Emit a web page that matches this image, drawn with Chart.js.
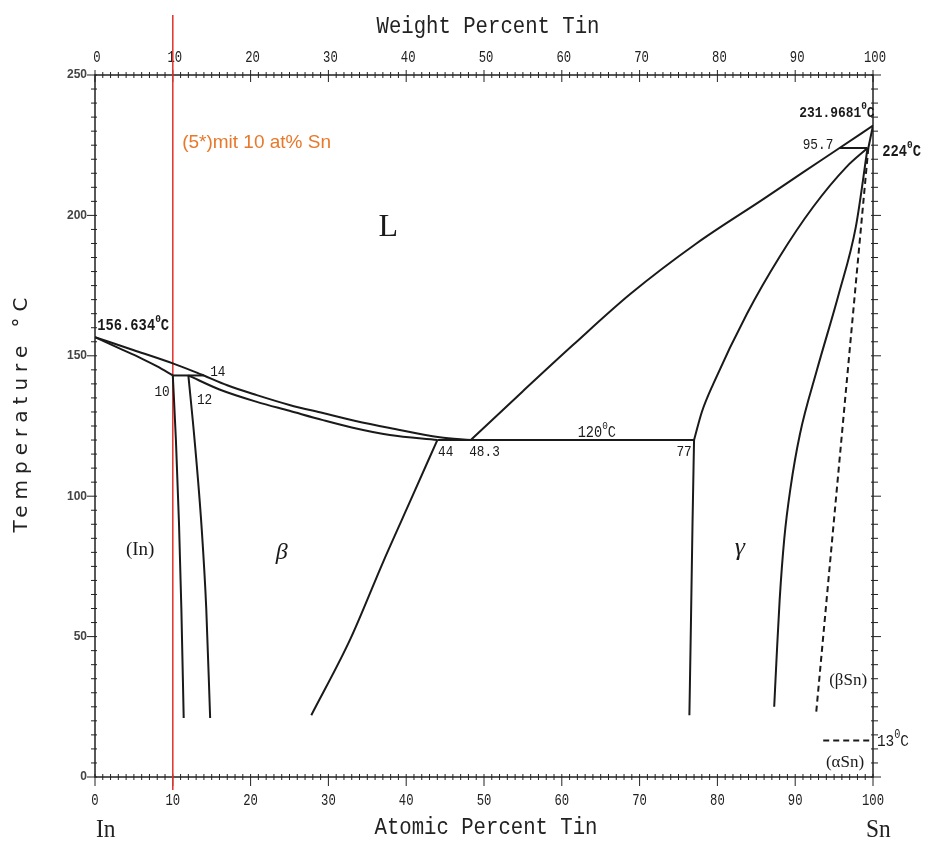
<!DOCTYPE html>
<html>
<head>
<meta charset="utf-8">
<script src="https://cdn.jsdelivr.net/npm/chart.js@4.4.1/dist/chart.umd.min.js"></script>
<style>
    html, body { margin: 0; padding: 0; background: #fff; }
    #wrap { width: 930px; height: 842px; }
</style>
</head>
<body>
<div id="wrap"><canvas id="phase" width="930" height="842"></canvas></div>
<script>
// =============================================
// In-Sn phase diagram (atomic % Sn vs temperature)
// =============================================

// Axis ticks
const atomicTicks = [0, 10, 20, 30, 40, 50, 60, 70, 80, 90, 100];
const weightTicks = [0, 10, 20, 30, 40, 50, 60, 70, 80, 90, 100];
const tempTicks = [0, 50, 100, 150, 200, 250];

// Phase boundaries, [at% Sn, °C]
const liquidusIn = [[0, 156.6], [5, 152.0], [10, 147.3], [14, 143]];
const liquidusBeta = [[14, 143], [17, 139.5], [20.8, 136], [25, 132.5], [29.3, 129.6], [33.5, 126.8], [37.9, 124.3], [44.3, 121], [48.3, 120]];
const liquidusSn = [[48.3, 120], [55, 137.4], [61.5, 154], [68.8, 172], [77.3, 190], [85.9, 205.8], [91, 215.3], [95.7, 224], [100, 232]];
const solidusIn = [[0, 156.6], [3, 152.8], [6, 149], [8, 146.2], [10, 143]];
const solidusBeta = [[12, 143], [16, 138], [20.8, 133.6], [25, 130.4], [29.3, 127.1], [33, 124.5], [37.9, 121.8], [44, 120]];
const solidusGamma = [[77, 120], [78, 130], [79.5, 140.2], [83.8, 165], [88, 185.3], [92.3, 203], [96.6, 217.3], [99.3, 224]];
const solidusSn = [[100, 232], [99.4, 224]];
const peritectic143 = [[10, 143], [14, 143]];
const eutectic120 = [[44, 120], [77, 120]];
const peritectic224 = [[95.7, 224], [99.3, 224]];
const solvusIn = [[10, 143], [10.4, 120], [10.8, 90], [11.1, 60], [11.4, 21]];
const solvusBetaLeft = [[12, 143], [12.8, 120], [13.7, 89], [14.3, 60], [14.8, 21]];
const solvusBetaRight = [[44, 120], [40.8, 100], [37.1, 77], [32.8, 49], [27.8, 22]];
const solvusGammaLeft = [[77, 120], [76.8, 90], [76.6, 55], [76.4, 22]];
const solvusGammaRight = [[99.3, 224], [97.8, 196], [95.6, 172], [92.8, 145], [90.6, 122], [89.4, 103], [88.6, 85], [88, 63], [87.6, 42], [87.3, 25]];
const solvusSn = [[99.4, 224], [92.7, 23]];
const transition13 = [[93.6, 13], [99.6, 13]];

// Marked alloy: 10 at% Sn
const markerX = 10;
const markerRange = [271.4, -4.6];

const toXY = arr => arr.map(p => ({ x: p[0], y: p[1] }));

const black = '#1a1a1a';

// curved boundary (monotone spline along x)
const curve = (name, arr, opts = {}) => Object.assign({
    label: name,
    data: toXY(arr),
    showLine: true,
    pointRadius: 0,
    borderColor: black,
    borderWidth: 2,
    cubicInterpolationMode: 'monotone',
    fill: false
}, opts);

// straight segment
const straight = (name, arr, opts = {}) => curve(name, arr, Object.assign({
    cubicInterpolationMode: 'default', tension: 0
}, opts));

// Draws text with '^x' marking x as superscript, optionally condensed
function drawText(ctx, str, x, y, font, size, align, sx, color) {
    const parts = [];
    for (let i = 0; i < str.length; i++) {
        if (str[i] === '^') { parts.push({ t: str[i + 1], sup: true }); i++; }
        else if (parts.length && !parts[parts.length - 1].sup) parts[parts.length - 1].t += str[i];
        else parts.push({ t: str[i], sup: false });
    }
    const supSize = Math.round(size * 0.7);
    ctx.save();
    ctx.fillStyle = color || black;
    ctx.textBaseline = 'middle';
    ctx.textAlign = 'left';
    let total = 0;
    parts.forEach(p => {
        ctx.font = font.replace('{s}', p.sup ? supSize : size);
        p.w = ctx.measureText(p.t).width;
        total += p.w;
    });
    const sxv = sx || 1;
    let start = x;
    if (align === 'center') start = x - total * sxv / 2;
    if (align === 'right') start = x - total * sxv;
    ctx.translate(start, y);
    ctx.scale(sxv, 1);
    let cx = 0;
    parts.forEach(p => {
        ctx.font = font.replace('{s}', p.sup ? supSize : size);
        ctx.fillText(p.t, cx, p.sup ? -size * 0.42 : 0);
        cx += p.w;
    });
    ctx.restore();
}

const monoFont = '{s}px "Liberation Mono"';
const monoBold = 'bold {s}px "Liberation Mono"';
const serifFont = '{s}px "Liberation Serif"';

const axesPlugin = {
    id: 'axesPlugin',
    beforeDatasetsDraw(chart) {
        const ctx = chart.ctx;
        const xs = chart.scales.x, ys = chart.scales.y;
        const { left, right, top, bottom } = chart.chartArea;
        ctx.save();
        ctx.strokeStyle = '#222';
        ctx.lineWidth = 1.5;
        ctx.strokeRect(left, top, right - left, bottom - top);

        ctx.lineWidth = 1;
        for (let v = 0; v <= 100; v++) {
            const px = xs.getPixelForValue(v);
            const major = v % 10 === 0;
            ctx.beginPath();
            ctx.moveTo(px, bottom - 3);
            ctx.lineTo(px, bottom + (major ? 9 : 3));
            ctx.moveTo(px, top - (major ? 5 : 3));
            ctx.lineTo(px, top + (major ? 7 : 3));
            ctx.stroke();
        }
        for (let v = 0; v <= 250; v += 5) {
            const py = ys.getPixelForValue(v);
            const major = v % 50 === 0;
            ctx.beginPath();
            ctx.moveTo(left - (major ? 8 : 4), py);
            ctx.lineTo(left + 2, py);
            ctx.moveTo(right - 2, py);
            ctx.lineTo(right + (major ? 8 : 5), py);
            ctx.stroke();
        }
        ctx.restore();

        // tick labels
        atomicTicks.forEach(v => drawText(ctx, String(v), xs.getPixelForValue(v), bottom + 23, monoFont, 17, 'center', 0.72, '#222'));
        weightTicks.forEach(v => drawText(ctx, String(v), xs.getPixelForValue(v) + 2, top - 18, monoFont, 17, 'center', 0.72, '#222'));
        tempTicks.forEach(v => drawText(ctx, String(v), left - 8, ys.getPixelForValue(v), 'bold {s}px "Liberation Sans"', 12, 'right', 1, '#444'));

        // axis titles
        drawText(ctx, 'Weight Percent Tin', 488, 27, monoFont, 24, 'center', 0.86, '#222');
        drawText(ctx, 'Atomic Percent Tin', 486, 828, monoFont, 24, 'center', 0.86, '#222');
        drawText(ctx, 'In', 96, 830, serifFont, 26, 'left', 0.9, '#222');
        drawText(ctx, 'Sn', 866, 830, serifFont, 26, 'left', 0.9, '#222');

        ctx.save();
        ctx.translate(22, 412);
        ctx.rotate(-Math.PI / 2);
        ctx.font = '20px "DejaVu Sans"';
        ctx.letterSpacing = '6px';
        ctx.fillStyle = '#222';
        ctx.textAlign = 'center';
        ctx.textBaseline = 'middle';
        ctx.fillText('Temperature °C', 0, 0);
        ctx.restore();
    },
    afterDatasetsDraw(chart) {
        const ctx = chart.ctx;
        const xs = chart.scales.x, ys = chart.scales.y;
        const put = (str, x, y, font, size, align, sx, color) => {
            drawText(ctx, str, xs.getPixelForValue(x), ys.getPixelForValue(y), font, size, align, sx, color);
        };
        put('156.634^0C', 0.3, 160.5, monoBold, 16, 'left', 0.86);
        put('14', 14.8, 144.3, monoFont, 15, 'left', 0.85);
        put('10', 9.6, 137.2, monoFont, 15, 'right', 0.85);
        put('12', 13.1, 134.3, monoFont, 15, 'left', 0.85);
        put('44', 44.1, 115.9, monoFont, 15, 'left', 0.85);
        put('48.3', 48.1, 115.9, monoFont, 15, 'left', 0.85);
        put('120^0C', 64.5, 122.5, monoFont, 16, 'center', 0.85);
        put('77', 76.7, 115.9, monoFont, 15, 'right', 0.85);
        put('231.9681^0C', 100.2, 236.5, monoBold, 15, 'right', 0.86);
        put('95.7', 94.9, 225, monoFont, 15, 'right', 0.85);
        put('224^0C', 101.2, 222.7, monoBold, 16, 'left', 0.86);
        put('13^0C', 100.5, 12.5, monoFont, 17, 'left', 0.85);

        put('L', 37.7, 195.5, serifFont, 32, 'center', 1);
        put('(In)', 5.8, 80.8, serifFont, 19, 'center', 1);
        put('β', 24, 79.8, 'italic {s}px "Liberation Serif"', 24, 'center', 1);
        put('γ', 82.9, 81.6, 'italic {s}px "Liberation Serif"', 26, 'center', 1);
        put('(βSn)', 96.8, 34.5, serifFont, 17, 'center', 1);
        put('(αSn)', 96.4, 5, serifFont, 17, 'center', 1);

        put('(5*)mit 10 at% Sn', 11.2, 225.8, '{s}px "Liberation Sans"', 19, 'left', 1, '#e8782a');
    }
};

new Chart(document.getElementById('phase'), {
    type: 'scatter',
    data: {
        datasets: [
            curve('Liquidus (In)', liquidusIn),
            curve('Liquidus (beta)', liquidusBeta),
            curve('Liquidus (Sn)', liquidusSn),
            curve('Solidus (In)', solidusIn),
            curve('Solidus (beta)', solidusBeta),
            curve('Solidus (gamma)', solidusGamma),
            straight('Solidus (Sn)', solidusSn),
            straight('Peritectic 143', peritectic143),
            straight('Eutectic 120', eutectic120),
            straight('Peritectic 224', peritectic224),
            curve('Solvus (In)', solvusIn),
            curve('Solvus beta left', solvusBetaLeft),
            curve('Solvus beta right', solvusBetaRight),
            curve('Solvus gamma left', solvusGammaLeft),
            curve('Solvus gamma right', solvusGammaRight),
            straight('Solvus (Sn)', solvusSn, { borderDash: [6, 4] }),
            straight('alpha/beta Sn 13', transition13, { borderDash: [6, 4], borderWidth: 1.8 }),
            straight('10 at% Sn', [[markerX, markerRange[0]], [markerX, markerRange[1]]], {
                borderColor: '#e3312b', borderWidth: 1.5, clip: false
            })
        ]
    },
    options: {
        responsive: false,
        animation: false,
        devicePixelRatio: 1,
        layout: {
            padding: { left: 95, right: 57, top: 75, bottom: 65 }
        },
        plugins: {
            legend: { display: false },
            tooltip: { enabled: false }
        },
        scales: {
            x: { type: 'linear', min: 0, max: 100, display: false },
            y: { type: 'linear', min: 0, max: 250, display: false }
        }
    },
    plugins: [axesPlugin]
});
</script>
</body>
</html>
